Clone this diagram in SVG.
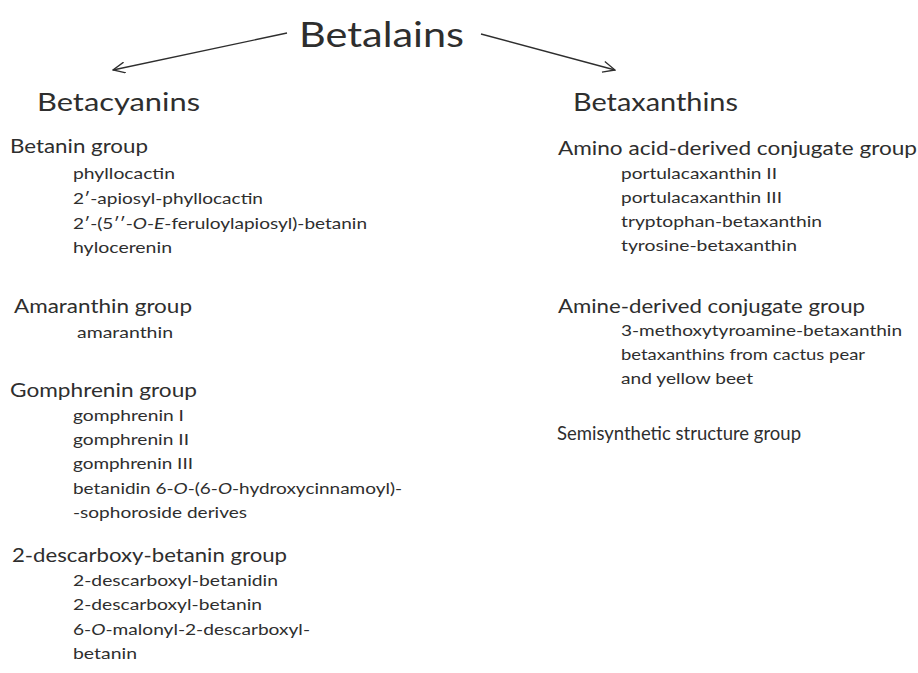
<svg xmlns="http://www.w3.org/2000/svg" width="918" height="673" viewBox="0 0 918 673">
<style>
text{font-family:Lato,"Open Sans","Liberation Sans",sans-serif;fill:#2e2e2e}
.t{font-size:35px}
.c{font-size:25px}
.h{font-size:18.5px}
.i{font-size:16px}
.conn line{stroke:#2e2e2e;stroke-width:1.3;fill:none}
</style>
<defs>
<marker id="ah" viewBox="0 0 14 12" refX="13" refY="6" markerWidth="14" markerHeight="12" markerUnits="userSpaceOnUse" orient="auto">
<path d="M1,0.5 L13,6 L1,11.5" fill="none" stroke="#2e2e2e" stroke-width="1.3"/>
</marker>
</defs>
<rect width="918" height="673" fill="#fff"/>
<g class="conn" id="connectors">
<line x1="287" y1="33" x2="113" y2="70" marker-end="url(#ah)"/>
<line x1="481" y1="34" x2="615" y2="70" marker-end="url(#ah)"/>
</g>
<g id="betalains"><text class="t" x="299" y="47" textLength="165" lengthAdjust="spacingAndGlyphs">Betalains</text></g>
<g id="betacyanins"><text class="c" x="37" y="111" textLength="163" lengthAdjust="spacingAndGlyphs">Betacyanins</text></g>
<g id="betaxanthins"><text class="c" x="573" y="111" textLength="165" lengthAdjust="spacingAndGlyphs">Betaxanthins</text></g>

<g id="betanin-group">
<text class="h" x="10" y="153" textLength="138" lengthAdjust="spacingAndGlyphs">Betanin group</text>
<text class="i" x="73" y="179" textLength="102" lengthAdjust="spacingAndGlyphs">phyllocactin</text>
<text class="i" x="73" y="204" textLength="190" lengthAdjust="spacingAndGlyphs">2′-apiosyl-phyllocactin</text>
<text class="i" x="73" y="229" textLength="294" lengthAdjust="spacingAndGlyphs">2′-(5′′-<tspan font-style="italic">O</tspan>-<tspan font-style="italic">E</tspan>-feruloylapiosyl)-betanin</text>
<text class="i" x="73" y="253" textLength="99" lengthAdjust="spacingAndGlyphs">hylocerenin</text>
</g>

<g id="amaranthin-group">
<text class="h" x="14" y="313" textLength="178" lengthAdjust="spacingAndGlyphs">Amaranthin group</text>
<text class="i" x="77" y="338" textLength="96" lengthAdjust="spacingAndGlyphs">amaranthin</text>
</g>

<g id="gomphrenin-group">
<text class="h" x="10" y="397" textLength="187" lengthAdjust="spacingAndGlyphs">Gomphrenin group</text>
<text class="i" x="73" y="421" textLength="111" lengthAdjust="spacingAndGlyphs">gomphrenin I</text>
<text class="i" x="73" y="445" textLength="116" lengthAdjust="spacingAndGlyphs">gomphrenin II</text>
<text class="i" x="73" y="469" textLength="120" lengthAdjust="spacingAndGlyphs">gomphrenin III</text>
<text class="i" x="73" y="494" textLength="329" lengthAdjust="spacingAndGlyphs">betanidin 6-<tspan font-style="italic">O</tspan>-(6-<tspan font-style="italic">O</tspan>-hydroxycinnamoyl)-</text>
<text class="i" x="73" y="518" textLength="174" lengthAdjust="spacingAndGlyphs">-sophoroside derives</text>
</g>

<g id="descarboxy-group">
<text class="h" x="12" y="562" textLength="275" lengthAdjust="spacingAndGlyphs">2-descarboxy-betanin group</text>
<text class="i" x="73" y="586" textLength="205" lengthAdjust="spacingAndGlyphs">2-descarboxyl-betanidin</text>
<text class="i" x="73" y="610" textLength="189" lengthAdjust="spacingAndGlyphs">2-descarboxyl-betanin</text>
<text class="i" x="73" y="635" textLength="237" lengthAdjust="spacingAndGlyphs">6-<tspan font-style="italic">O</tspan>-malonyl-2-descarboxyl-</text>
<text class="i" x="73" y="659" textLength="64" lengthAdjust="spacingAndGlyphs">betanin</text>
</g>

<g id="amino-acid-group">
<text class="h" x="558" y="155" textLength="359" lengthAdjust="spacingAndGlyphs">Amino acid-derived conjugate group</text>
<text class="i" x="621" y="179" textLength="156" lengthAdjust="spacingAndGlyphs">portulacaxanthin II</text>
<text class="i" x="621" y="203" textLength="161" lengthAdjust="spacingAndGlyphs">portulacaxanthin III</text>
<text class="i" x="621" y="227" textLength="201" lengthAdjust="spacingAndGlyphs">tryptophan-betaxanthin</text>
<text class="i" x="621" y="251" textLength="176" lengthAdjust="spacingAndGlyphs">tyrosine-betaxanthin</text>
</g>

<g id="amine-group">
<text class="h" x="558" y="313" textLength="307" lengthAdjust="spacingAndGlyphs">Amine-derived conjugate group</text>
<text class="i" x="621" y="336" textLength="281" lengthAdjust="spacingAndGlyphs">3-methoxytyroamine-betaxanthin</text>
<text class="i" x="621" y="360" textLength="244" lengthAdjust="spacingAndGlyphs">betaxanthins from cactus pear</text>
<text class="i" x="621" y="384" textLength="132" lengthAdjust="spacingAndGlyphs">and yellow beet</text>
</g>

<g id="semisynthetic-group">
<text class="h" x="557" y="440" textLength="244" lengthAdjust="spacingAndGlyphs">Semisynthetic structure group</text>
</g>
</svg>
